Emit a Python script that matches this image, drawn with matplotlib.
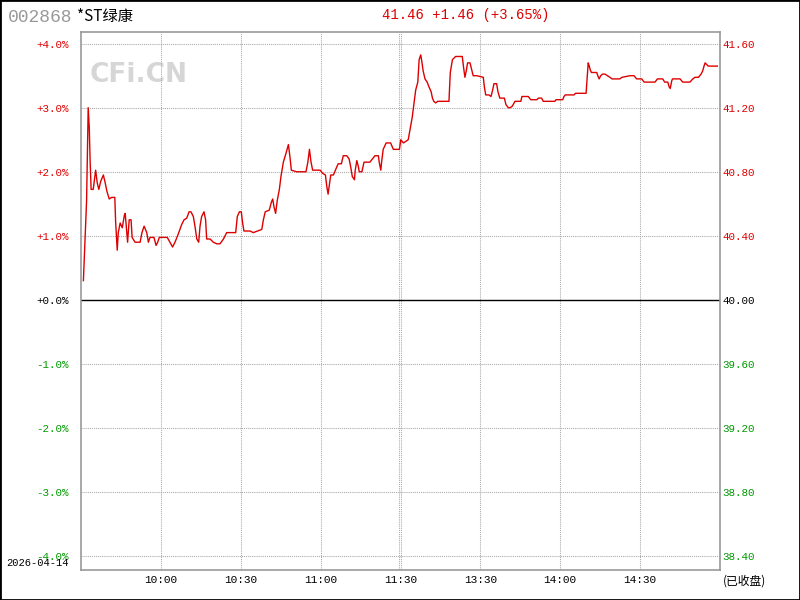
import matplotlib
matplotlib.use("Agg")
import matplotlib.pyplot as plt
from matplotlib.patches import Rectangle

# stock info
code = "002868"
name = "*ST绿康"
date_label = "2026-04-14"
pre_close = 40.00
last_price = 41.46

# minutes since 9:30 (11:30 -> 120, 13:00 continues at 120)
minutes = [0.9, 2.1, 2.7, 3.1, 3.4, 3.8, 4.6, 5.5, 6.1, 6.7, 7.4, 8.4, 9.1, 9.7, 10.6, 11.5, 12.7,
           13.0, 13.6, 14.0, 14.7, 15.5, 16.3, 16.6, 17.2, 17.5, 18.1, 18.8, 19.2, 20.3, 22.2, 22.9,
           23.7, 24.7, 25.3, 25.9, 26.7, 27.4, 28.2, 28.8, 29.4, 32.4, 33.4, 34.4, 35.3, 36.5, 37.8,
           38.7, 39.7, 40.6, 41.3, 42.2, 42.8, 43.5, 44.2, 44.7, 45.3, 46.2, 46.8, 47.2, 48.5, 49.7,
           51.0, 52.2, 53.5, 54.7, 58.1, 58.7, 59.5, 60.2, 60.7, 61.2, 63.5, 64.7, 67.9, 68.5, 69.2,
           70.7, 71.5, 72.0, 72.5, 73.1, 73.7, 74.5, 75.1, 76.0, 76.9, 77.9, 78.5, 79.0, 81.0, 84.5,
           85.2, 85.8, 86.4, 87.0, 89.8, 90.8, 91.8, 92.3, 92.8, 93.3, 93.8, 94.8, 95.8, 96.6, 97.8,
           98.5, 99.8, 100.7, 101.3, 101.9, 102.7, 103.0, 103.6, 104.2, 104.5, 105.5, 106.3, 108.5,
           110.4, 111.7, 112.0, 112.6, 112.9, 113.5, 114.6, 116.3, 117.3, 119.6, 120.1, 121.1, 122.9,
           124.4, 125.1, 125.7, 126.5, 127.0, 127.6, 128.0, 128.5, 129.2, 130.0, 130.7, 131.5, 132.0,
           132.5, 133.2, 134.0, 138.2, 138.7, 139.5, 140.7, 143.2, 143.7, 144.2, 144.7, 145.2, 146.1,
           146.7, 147.3, 148.6, 151.1, 151.5, 152.0, 153.2, 154.0, 154.6, 155.1, 156.1, 156.6, 157.3,
           159.0, 159.6, 160.5, 161.2, 162.0, 163.0, 165.2, 165.6, 168.0, 168.9, 171.2, 171.8, 173.0,
           173.6, 178.0, 178.4, 180.9, 181.4, 181.9, 185.2, 185.7, 189.7, 189.9, 190.2, 190.5, 190.9,
           191.2, 191.7, 193.7, 194.1, 194.6, 195.2, 195.9, 196.8, 197.7, 198.7, 199.4, 202.4, 203.2,
           206.2, 207.7, 208.7, 210.6, 211.5, 215.6, 216.5, 218.5, 219.2, 220.4, 220.9, 221.3, 221.9,
           222.2, 225.0, 226.0, 228.7, 229.8, 230.6, 231.9, 232.9, 233.5, 234.0, 234.4, 235.0, 235.6,
           239.0]
prices = [40.12, 40.62, 41.20, 41.08, 40.88, 40.69, 40.69, 40.81, 40.73, 40.69, 40.74, 40.78, 40.73,
          40.68, 40.63, 40.64, 40.64, 40.49, 40.31, 40.42, 40.48, 40.45, 40.53, 40.54, 40.42, 40.36,
          40.50, 40.50, 40.39, 40.36, 40.36, 40.42, 40.46, 40.42, 40.36, 40.39, 40.39, 40.39, 40.34,
          40.36, 40.39, 40.39, 40.36, 40.33, 40.36, 40.41, 40.47, 40.50, 40.51, 40.55, 40.55, 40.52,
          40.46, 40.38, 40.36, 40.46, 40.52, 40.55, 40.50, 40.38, 40.38, 40.36, 40.35, 40.35, 40.38,
          40.42, 40.42, 40.52, 40.55, 40.55, 40.48, 40.43, 40.43, 40.42, 40.44, 40.50, 40.55, 40.56,
          40.61, 40.63, 40.58, 40.54, 40.62, 40.69, 40.77, 40.86, 40.91, 40.97, 40.89, 40.81, 40.80,
          40.80, 40.86, 40.94, 40.86, 40.81, 40.81, 40.79, 40.78, 40.71, 40.66, 40.72, 40.78, 40.78,
          40.82, 40.85, 40.85, 40.90, 40.90, 40.88, 40.83, 40.77, 40.75, 40.81, 40.87, 40.83, 40.80,
          40.80, 40.86, 40.86, 40.90, 40.90, 40.86, 40.81, 40.86, 40.94, 40.98, 40.98, 40.94, 40.94,
          41.00, 40.98, 41.00, 41.14, 41.23, 41.31, 41.36, 41.50, 41.53, 41.49, 41.43, 41.38, 41.36,
          41.33, 41.30, 41.26, 41.24, 41.23, 41.24, 41.24, 41.42, 41.50, 41.52, 41.52, 41.45, 41.39,
          41.43, 41.48, 41.48, 41.44, 41.40, 41.40, 41.39, 41.33, 41.28, 41.28, 41.27, 41.31, 41.35,
          41.35, 41.30, 41.26, 41.26, 41.22, 41.20, 41.20, 41.21, 41.24, 41.24, 41.27, 41.27,
          41.25, 41.25, 41.26, 41.26, 41.24, 41.24, 41.25, 41.25, 41.27, 41.28, 41.28, 41.29, 41.29,
          41.34, 41.42, 41.48, 41.46, 41.44, 41.42, 41.42, 41.40, 41.38, 41.40, 41.41, 41.41, 41.40,
          41.39, 41.38, 41.38, 41.39, 41.40, 41.40, 41.38, 41.38, 41.36, 41.36, 41.38, 41.38, 41.36,
          41.36, 41.33, 41.32, 41.37, 41.38, 41.38, 41.36, 41.36, 41.38, 41.39, 41.39, 41.41, 41.43,
          41.46, 41.48, 41.47, 41.46, 41.46]

time_ticks = [30, 60, 90, 120, 150, 180, 210]
time_labels = ["10:00", "10:30", "11:00", "11:30", "13:30", "14:00", "14:30"]
pct_ticks = [4, 3, 2, 1, 0, -1, -2, -3, -4]

RED = "#dd0000"
GREEN = "#009900"
GRID = "#a8a8a8"

pct = [(p / pre_close - 1) * 100 for p in prices]

fig = plt.figure(figsize=(8, 6), dpi=100)
ax = fig.add_axes([81 / 800, 1 - 569.5 / 600, 639 / 800, 538 / 600])
ax.set_xlim(0, 240)
ax.set_ylim(-4.21, 4.19)

# grid (double line at the midday break)
for t in time_ticks:
    if t == 120:
        ax.axvline(119.5, color=GRID, lw=0.75, ls=(0, (1, 1)), zorder=1)
        ax.axvline(120.1, color=GRID, lw=0.75, ls=(0, (1, 1)), zorder=1)
    else:
        ax.axvline(t, color=GRID, lw=0.75, ls=(0, (1, 1)), zorder=1)
for p in pct_ticks:
    if p != 0:
        ax.axhline(p, color=GRID, lw=0.75, ls=(0, (1, 1)), zorder=1)
ax.axhline(0, color="black", lw=1, zorder=2)

ax.plot(minutes, pct, color=RED, lw=1.0, zorder=3)

# watermark
ax.text(0.014, 0.92, "CFi.CN", transform=ax.transAxes, fontsize=19, fontweight="bold",
        color="#d6d6d6", family="DejaVu Sans", va="center", ha="left", zorder=0)

for s in ax.spines.values():
    s.set_color("#999999")
    s.set_linewidth(1.2)

def col(v):
    if v > 0:
        return RED
    if v < 0:
        return GREEN
    return "black"

ax.set_xticks(time_ticks)
ax.set_xticklabels(time_labels, family="Liberation Mono", fontsize=8)
ax.set_yticks(pct_ticks)
ax.set_yticklabels(["%+.1f%%" % p if p != 0 else "+0.0%" for p in pct_ticks],
                   family="Liberation Mono", fontsize=7.8)
for lab, p in zip(ax.get_yticklabels(), pct_ticks):
    lab.set_color(col(p))
ax.tick_params(axis="both", length=0)
ax.tick_params(axis="y", pad=9)
ax.tick_params(axis="x", pad=4)

ax2 = ax.twinx()
ax2.set_ylim(ax.get_ylim())
ax2.set_yticks(pct_ticks)
ax2.set_yticklabels(["%.2f" % (pre_close * (1 + p / 100)) for p in pct_ticks],
                    family="Liberation Mono", fontsize=7.8)
for lab, p in zip(ax2.get_yticklabels(), pct_ticks):
    lab.set_color(col(p))
ax2.tick_params(axis="y", length=0, pad=2)
for s in ax2.spines.values():
    s.set_visible(False)

# header
chg = last_price - pre_close
fig.text(8 / 800, 1 - 17 / 600, code, color="#999999", fontsize=13, family="Liberation Mono",
         va="center", ha="left")
fig.text(77 / 800, 1 - 16 / 600, name, color="black", fontsize=11,
         family=["Noto Sans CJK SC", "DejaVu Sans"], va="center", ha="left")
fig.text(466 / 800, 1 - 15 / 600, "%.2f %+.2f (%+.2f%%)" % (last_price, chg, chg / pre_close * 100),
         color=RED, fontsize=10, family="Liberation Mono", va="center", ha="center")

fig.text(6 / 800, 1 - 563 / 600, date_label, color="black", fontsize=7.5, family="Liberation Mono",
         va="center", ha="left")
fig.text(723 / 800, 1 - 581 / 600, "(已收盘)", color="black", fontsize=8.5,
         family=["Noto Sans CJK SC", "DejaVu Sans"], va="center", ha="left")

fig.patches.append(Rectangle((0, 0), 1, 1, transform=fig.transFigure, fill=False,
                             edgecolor="black", lw=2))

plt.savefig("out.png", dpi=100)
